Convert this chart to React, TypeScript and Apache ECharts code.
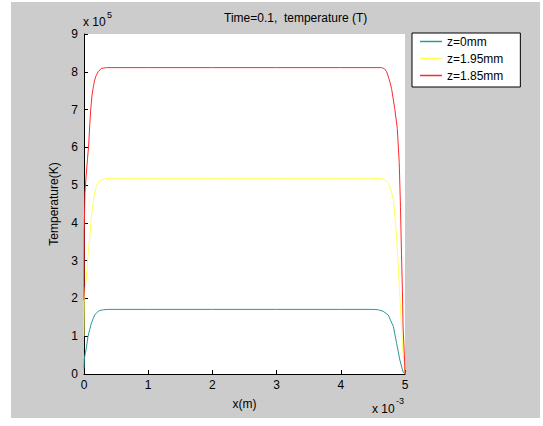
import React, { useEffect, useRef } from "react";
import * as echarts from "echarts";

// x in units of 1e-3 m, temperature in units of 1e5 K
const seriesNames = ["z=0mm", "z=1.95mm", "z=1.85mm"];
const seriesColors = ["#2a9a9a", "#ffff55", "#ff2a2a"];

const tealX = [0, 0.005, 0.02, 0.036, 0.062, 0.09, 0.114, 0.14, 0.166, 0.2, 0.24, 0.3, 0.37, 0.5, 1, 2, 3, 4, 4.5, 4.585, 4.66, 4.74, 4.82, 4.87, 4.92, 4.97, 5];
const tealY = [0.15, 0.4, 0.55, 0.68, 0.99, 1.18, 1.34, 1.46, 1.56, 1.63, 1.68, 1.7, 1.71, 1.71, 1.71, 1.71, 1.71, 1.71, 1.71, 1.7, 1.66, 1.56, 1.25, 0.81, 0.37, 0.05, 0];

const yellowX = [0, 0.004, 0.015, 0.036, 0.06, 0.09, 0.115, 0.14, 0.165, 0.19, 0.22, 0.27, 0.37, 0.5, 1, 2, 3, 4, 4.5, 4.64, 4.7, 4.74, 4.78, 4.82, 4.87, 4.906, 4.94, 4.97, 5];
const yellowY = [1.0, 1.9, 2.25, 2.5, 3.1, 3.63, 4.15, 4.52, 4.8, 4.96, 5.07, 5.14, 5.18, 5.18, 5.18, 5.18, 5.18, 5.18, 5.18, 5.17, 5.12, 5.05, 4.88, 4.6, 3.63, 2.49, 1.43, 0.55, 0];

const redX = [0, 0.003, 0.015, 0.036, 0.055, 0.073, 0.09, 0.104, 0.125, 0.145, 0.166, 0.19, 0.22, 0.27, 0.35, 0.5, 1, 2, 3, 4, 4.5, 4.637, 4.68, 4.715, 4.75, 4.79, 4.84, 4.88, 4.91, 4.93, 4.945, 4.96, 4.97, 4.99, 5];
const redY = [1.95, 3.8, 4.8, 5.3, 5.7, 6.06, 6.6, 6.99, 7.38, 7.6, 7.78, 7.9, 8.0, 8.09, 8.11, 8.11, 8.11, 8.11, 8.11, 8.11, 8.11, 8.11, 8.08, 8.0, 7.82, 7.56, 7.03, 6.5, 5.6, 4.4, 3.2, 2.2, 1.25, 0.5, 0];

const xTicks = { min: 0, max: 5, interval: 1 };
const yTicks = { min: 0, max: 9, interval: 1 };

const titleText = "Time=0.1,  temperature (T)";
const xName = "x(m)";
const yName = "Temperature(K)";

const FONT = "'Liberation Sans', Arial, sans-serif";

function pairs(xs: number[], ys: number[]) {
  return xs.map((x, i) => [x, ys[i]]);
}

export default function App() {
  const ref = useRef<HTMLDivElement>(null);
  useEffect(() => {
    if (!ref.current) return;
    const chart = echarts.init(ref.current, undefined, { renderer: "svg" });
    const data = [pairs(tealX, tealY), pairs(yellowX, yellowY), pairs(redX, redY)];
    const axisCommon = {
      axisLine: { show: true, lineStyle: { color: "#000", width: 1 } },
      axisTick: { show: true, inside: true, length: 4, lineStyle: { color: "#000" } },
      splitLine: { show: false },
      axisLabel: { color: "#000", fontSize: 12, fontFamily: FONT },
      nameTextStyle: { color: "#000", fontSize: 12, fontFamily: FONT },
    };
    chart.setOption({
      animation: false,
      backgroundColor: "#ffffff",
      textStyle: { fontFamily: FONT },
      graphic: [
        { type: "rect", z: -10, silent: true, shape: { x: 11, y: 2, width: 529, height: 416 }, style: { fill: "#cccccc" } },
        { type: "text", x: 83, y: 16, style: { text: "x 10", fontSize: 12, fontFamily: FONT, fill: "#000" } },
        { type: "text", x: 107, y: 10, style: { text: "5", fontSize: 9, fontFamily: FONT, fill: "#000" } },
        { type: "text", x: 372, y: 403, style: { text: "x 10", fontSize: 12, fontFamily: FONT, fill: "#000" } },
        { type: "text", x: 396, y: 396, style: { text: "-3", fontSize: 9, fontFamily: FONT, fill: "#000" } },
      ],
      title: {
        text: titleText,
        left: 224,
        top: 12,
        padding: 0,
        textStyle: { fontSize: 12, fontWeight: "normal", color: "#000", fontFamily: FONT },
      },
      legend: {
        data: seriesNames,
        orient: "vertical",
        left: 412,
        top: 33,
        icon: "rect",
        itemWidth: 22,
        itemHeight: 1.5,
        itemGap: 0,
        padding: [0, 17, 3, 8],
        backgroundColor: "#ffffff",
        borderColor: "#000",
        borderWidth: 1,
        borderRadius: 0,
        textStyle: { fontSize: 12, color: "#000", fontFamily: FONT, lineHeight: 17 },
      },
      grid: {
        left: 84,
        top: 34,
        right: 138,
        bottom: 52,
        show: true,
        backgroundColor: "#ffffff",
        borderWidth: 0,
      },
      xAxis: {
        type: "value",
        ...xTicks,
        name: xName,
        nameLocation: "middle",
        nameGap: 24,
        ...axisCommon,
        axisLabel: { ...axisCommon.axisLabel, margin: 5 },
      },
      yAxis: {
        type: "value",
        ...yTicks,
        name: yName,
        nameLocation: "middle",
        nameGap: 21,
        ...axisCommon,
        axisLabel: { ...axisCommon.axisLabel, margin: 6 },
      },
      series: seriesNames.map((name, i) => ({
        name,
        type: "line",
        data: data[i],
        showSymbol: false,
        symbol: "none",
        lineStyle: { color: seriesColors[i], width: 1 },
        itemStyle: { color: seriesColors[i] },
        clip: true,
      })),
    });
    return () => chart.dispose();
  }, []);
  return (
    <div
      ref={ref}
      style={{ position: "fixed", left: 0, top: 0, width: 543, height: 426 }}
    />
  );
}
